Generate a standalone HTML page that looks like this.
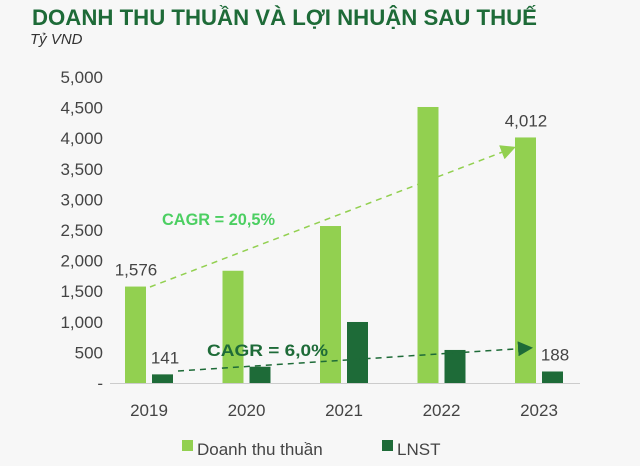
<!DOCTYPE html>
<html><head><meta charset="utf-8"><style>
body{margin:0;background:#f7f7f7;font-family:"Liberation Sans",sans-serif;}
svg{display:block}
</style></head><body>
<svg width="640" height="466" id="c">
<rect width="640" height="466" fill="#f7f7f7"/>
<text x="32" y="25" font-size="22" font-weight="bold" fill="#1e6b38" textLength="505" lengthAdjust="spacingAndGlyphs">DOANH THU THUẦN VÀ LỢI NHUẬN SAU THUẾ</text>
<text x="30" y="44" font-size="15" font-style="italic" fill="#333">Tỷ VND</text>
<line x1="110" x2="580" y1="383.5" y2="383.5" stroke="#ccc"/>
<g id="ticks"></g><g id="bars"></g><g id="labels"></g>
<defs>
<marker id="ml" markerWidth="10" markerHeight="10" refX="8" refY="5" orient="auto"><path d="M0,0L10,5L0,10z" fill="#92d050"/></marker>
<marker id="md" markerWidth="10" markerHeight="10" refX="8" refY="5" orient="auto"><path d="M0,0L10,5L0,10z" fill="#1e6b38"/></marker>
</defs>
<line x1="150" y1="287" x2="513" y2="148" stroke="#92d050" stroke-width="1.5" stroke-dasharray="6,5" marker-end="url(#ml)"/>
<line x1="178" y1="371" x2="530" y2="348" stroke="#1e6b38" stroke-width="1.5" stroke-dasharray="6,5" marker-end="url(#md)"/>
<text x="162" y="225" font-size="17" font-weight="bold" fill="#4ccf62" textLength="113" lengthAdjust="spacingAndGlyphs">CAGR = 20,5%</text>
<text x="207" y="356" font-size="17" font-weight="bold" fill="#1e6b38" textLength="121" lengthAdjust="spacingAndGlyphs">CAGR = 6,0%</text>
<rect x="182" y="440" width="11" height="11" fill="#92d050"/>
<text x="197" y="455" font-size="17" fill="#444">Doanh thu thuần</text>
<rect x="382" y="440" width="11" height="11" fill="#1e6b38"/>
<text x="397" y="455" font-size="17" fill="#444">LNST</text>
</svg>
<script>
const years=["2019","2020","2021","2022","2023"];
const revenue=[1576,1834,2565,4510,4012];
const profit=[141,266,997,540,188];
const revLabels=["1,576","","","","4,012"];
const profitLabels=["141","","","","188"];
const tickVals=[0,500,1000,1500,2000,2500,3000,3500,4000,4500,5000];
const tickLabels=["-","500","1,000","1,500","2,000","2,500","3,000","3,500","4,000","4,500","5,000"];
const NS="http://www.w3.org/2000/svg";
const y=v=>383-v*306/5000;
const xc=i=>149+i*97.5;
function mk(t,a,p){const e=document.createElementNS(NS,t);for(const k in a)e.setAttribute(k,a[k]);document.getElementById(p).appendChild(e);return e;}
tickVals.forEach((v,i)=>{const t=mk("text",{x:103,y:y(v)+6,"text-anchor":"end","font-size":"17",fill:"#444"},"ticks");t.textContent=tickLabels[i];

});
years.forEach((yr,i)=>{
const r=mk("rect",{x:xc(i)-24,y:y(revenue[i]),width:21,height:383-y(revenue[i]),fill:"#92d050"},"bars");


const p=mk("rect",{x:xc(i)+3,y:y(profit[i]),width:21,height:383-y(profit[i]),fill:"#1e6b38"},"bars");


const t=mk("text",{x:xc(i),y:416,"text-anchor":"middle","font-size":"17",fill:"#444"},"labels");t.textContent=yr;


if(revLabels[i]){const l=mk("text",{x:xc(i)-13,y:y(revenue[i])-11,"text-anchor":"middle","font-size":"17",fill:"#444"},"labels");l.textContent=revLabels[i];

}
if(profitLabels[i]){const l=mk("text",{x:xc(i)+16,y:y(profit[i])-11,"text-anchor":"middle","font-size":"17",fill:"#444"},"labels");l.textContent=profitLabels[i];

}
});
</script>
</body></html>
